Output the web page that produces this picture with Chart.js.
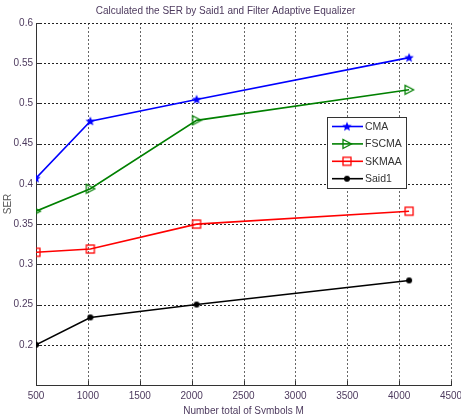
<!DOCTYPE html>
<html>
<head>
<meta charset="utf-8">
<script src="https://cdn.jsdelivr.net/npm/chart.js@4/dist/chart.umd.min.js"></script>
<style>
  html, body { margin: 0; padding: 0; background: #fff; }
  #wrap { width: 461px; height: 414px; }
</style>
</head>
<body>
<div id="wrap"><canvas id="chartCanvas"></canvas></div>
<script>
// values
const symbols = [500, 1024, 2048, 4096];
const cma = [0.407, 0.478, 0.505, 0.557];
const fscma = [0.366, 0.394, 0.479, 0.517];
const skmaa = [0.315, 0.319, 0.350, 0.366];
const said1 = [0.200, 0.234, 0.250, 0.280];
const seriesNames = ['CMA', 'FSCMA', 'SKMAA', 'Said1'];
const xTicks = [500, 1000, 1500, 2000, 2500, 3000, 3500, 4000, 4500];
const yTicks = [0.2, 0.25, 0.3, 0.35, 0.4, 0.45, 0.5, 0.55, 0.6];

const textColor = '#4d3a5e';
const fontName = "'Liberation Sans', Arial, sans-serif";

// little canvases used as markers (matlab style)
function marker(kind, color) {
    let c = document.createElement('canvas');
    c.width = 12; c.height = 12;
    let g = c.getContext('2d');
    g.strokeStyle = color;
    g.fillStyle = color;
    g.lineWidth = 1.3;
    if (kind == 'star') {
        g.beginPath();
        for (let i = 0; i < 10; i++) {
            let r = i % 2 == 0 ? 5 : 2.2;
            let a = -Math.PI / 2 + i * Math.PI / 5;
            g.lineTo(6 + r * Math.cos(a), 6.3 + r * Math.sin(a));
        }
        g.closePath();
        g.fill();
    } else if (kind == 'tri') {
        g.beginPath();
        g.moveTo(2, 1.5);
        g.lineTo(10.5, 6);
        g.lineTo(2, 10.5);
        g.closePath();
        g.stroke();
    } else if (kind == 'square') {
        g.strokeRect(2, 2, 8, 8);
    } else {
        g.beginPath();
        g.arc(6, 6, 3, 0, Math.PI * 2);
        g.fill();
    }
    return c;
}

const colors = ['#0000ff', '#008000', '#ff0000', '#000000'];
const markers = [marker('star', colors[0]), marker('tri', colors[1]), marker('square', colors[2]), marker('dot', colors[3])];
const values = [cma, fscma, skmaa, said1];

function toPoints(arr) {
    return arr.map((v, i) => ({ x: symbols[i], y: v }));
}

let datasets = seriesNames.map((name, i) => ({
    label: name,
    data: toPoints(values[i]),
    borderColor: colors[i],
    backgroundColor: colors[i],
    borderWidth: 1.6,
    pointStyle: markers[i],
    pointRadius: 6,
    tension: 0
}));

// dotted matlab grid + small inward ticks, placed through the scales
const dottedGrid = {
    id: 'dottedGrid',
    beforeDatasetsDraw(chart) {
        const ctx = chart.ctx;
        const area = chart.chartArea;
        const xs = chart.scales.x, ys = chart.scales.y;
        ctx.save();
        ctx.lineWidth = 1;
        ctx.setLineDash([2, 2]);
        ctx.strokeStyle = '#666';
        xTicks.forEach(v => {
            if (v == xs.min) return;
            let x = Math.round(xs.getPixelForValue(v)) + 0.5;
            ctx.beginPath();
            ctx.moveTo(x, area.bottom);
            ctx.lineTo(x, area.top);
            ctx.stroke();
        });
        ctx.strokeStyle = '#222';
        yTicks.forEach(v => {
            let y = Math.round(ys.getPixelForValue(v)) + 0.5;
            ctx.beginPath();
            ctx.moveTo(area.left, y);
            ctx.lineTo(area.right, y);
            ctx.stroke();
        });
        // inward ticks
        ctx.setLineDash([]);
        ctx.strokeStyle = '#333';
        xTicks.forEach(v => {
            let x = Math.round(xs.getPixelForValue(v)) + 0.5;
            ctx.beginPath();
            ctx.moveTo(x, area.bottom);
            ctx.lineTo(x, area.bottom - 4);
            ctx.stroke();
        });
        yTicks.forEach(v => {
            let y = Math.round(ys.getPixelForValue(v)) + 0.5;
            ctx.beginPath();
            ctx.moveTo(area.left, y);
            ctx.lineTo(area.left + 4, y);
            ctx.stroke();
        });
        ctx.restore();
    }
};

// legend drawn inside the plot, like the matlab one
const insideLegend = {
    id: 'insideLegend',
    afterDraw(chart) {
        const ctx = chart.ctx;
        const area = chart.chartArea;
        const left = area.right - 124, top = area.top + 94;
        const w = 79, h = 71;
        ctx.save();
        ctx.fillStyle = '#fff';
        ctx.fillRect(left, top, w, h);
        ctx.strokeStyle = '#333';
        ctx.lineWidth = 1;
        ctx.strokeRect(left + 0.5, top + 0.5, w, h);
        ctx.font = '10.5px ' + fontName;
        ctx.textBaseline = 'middle';
        seriesNames.forEach((name, i) => {
            let y = top + 9.5 + i * 17.4;
            ctx.strokeStyle = colors[i];
            ctx.lineWidth = 1.6;
            ctx.beginPath();
            ctx.moveTo(left + 5, y);
            ctx.lineTo(left + 36, y);
            ctx.stroke();
            ctx.drawImage(markers[i], left + 20 - 6, y - 6);
            ctx.fillStyle = '#333';
            ctx.fillText(name, left + 38, y + 0.5);
        });
        ctx.restore();
    }
};

let ctx = document.querySelector('#chartCanvas');

let graph = new Chart(ctx, {
    type: 'line',
    data: { datasets: datasets },
    options: {
        responsive: true,
        maintainAspectRatio: false,
        animation: false,
        layout: { padding: { left: 0, right: 10, top: 0, bottom: 0 } },
        scales: {
            x: {
                type: 'linear',
                min: 500,
                max: 4500,
                afterBuildTicks: (scale) => { scale.ticks = xTicks.map(v => ({ value: v })); },
                afterFit: (scale) => { scale.height = 29; scale.paddingLeft = 0; scale.paddingRight = 0; },
                ticks: {
                    color: textColor,
                    font: { family: fontName, size: 10 },
                    padding: 5,
                    maxRotation: 0,
                    autoSkip: false,
                    callback: (v) => String(v)
                },
                grid: { display: false, drawTicks: false },
                border: { display: true, color: '#333', width: 1 },
                title: {
                    display: true,
                    text: 'Number total of Symbols M',
                    color: textColor,
                    font: { family: fontName, size: 10 },
                    padding: { top: 0, bottom: -3 }
                }
            },
            y: {
                min: 0.15,
                max: 0.6,
                afterBuildTicks: (scale) => { scale.ticks = [{ value: 0.15 }].concat(yTicks.map(v => ({ value: v }))); },
                afterFit: (scale) => { scale.width = 36; scale.paddingTop = 0; scale.paddingBottom = 0; },
                ticks: {
                    color: textColor,
                    font: { family: fontName, size: 10 },
                    padding: 3,
                    callback: (v) => Math.abs(v - 0.15) < 1e-6 ? '' : String(+v.toFixed(2))
                },
                grid: { display: false, drawTicks: false },
                border: { display: true, color: '#333', width: 1 },
                title: {
                    display: true,
                    text: 'SER',
                    color: '#555',
                    font: { family: fontName, size: 10 },
                    padding: { top: 2, bottom: 0 }
                }
            }
        },
        plugins: {
            title: {
                display: true,
                text: 'Calculated the SER by Said1 and Filter Adaptive Equalizer',
                color: textColor,
                font: { family: fontName, size: 10, weight: 'normal' },
                padding: { top: 5, bottom: 6 }
            },
            legend: { display: false },
            tooltip: { enabled: false }
        }
    },
    plugins: [dottedGrid, insideLegend]
});
</script>
</body>
</html>
